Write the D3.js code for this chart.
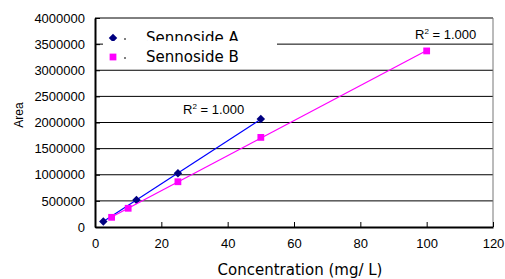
<!DOCTYPE html>
<html>
<head>
<meta charset="utf-8">
<script src="https://cdn.jsdelivr.net/npm/d3@7"></script>
<style>
    body { margin: 0; background: #fff; }
    svg { display: block; }
</style>
</head>
<body>
<div id="graph"></div>
<script>
// Sennoside A (diamonds) and Sennoside B (squares)
var concA = [2.5, 12.5, 25, 50];
var areaA = [105000, 516000, 1030000, 2065000];
var concB = [5, 10, 25, 50, 100];
var areaB = [185000, 358000, 866000, 1715000, 3370000];

var seriesNames = ["Sennoside A", "Sennoside B"];
var r2Labels = ["1.000", "1.000"];
var xTicks = [0, 20, 40, 60, 80, 100, 120];
var yTicks = [0, 500000, 1000000, 1500000, 2000000, 2500000, 3000000, 3500000, 4000000];

var width = 505;
var height = 279;
var margin = {left: 95, right: 12, top: 18, bottom: 52};

var svg = d3.select("#graph").append("svg")
    .attr("width", width)
    .attr("height", height);

var x = d3.scaleLinear()
    .domain([0, 120])
    .range([margin.left, width - margin.right]);
var y = d3.scaleLinear()
    .domain([0, 4000000])
    .range([height - margin.bottom, margin.top]);

function fit(xs, ys) {
    var mx = d3.mean(xs), my = d3.mean(ys);
    var sxy = 0, sxx = 0;
    xs.forEach(function(v, i) {
        sxy += (v - mx) * (ys[i] - my);
        sxx += (v - mx) * (v - mx);
    });
    var slope = sxy / sxx;
    return {slope: slope, intercept: my - slope * mx};
}

var series = [
    {name: seriesNames[0], xs: concA, ys: areaA, line: "#0000ff", fill: "#000080", diamond: true, r2: r2Labels[0]},
    {name: seriesNames[1], xs: concB, ys: areaB, line: "#ff00ff", fill: "#ff00ff", diamond: false, r2: r2Labels[1]}
];

var square = d3.symbol().type(d3.symbolSquare).size(46);
var diamond = d3.symbol().type(d3.symbolSquare).size(36);

function markerTransform(s, px, py) {
    return "translate(" + px + "," + py + ")" + (s.diamond ? " rotate(45)" : "");
}

// gridlines
svg.append("g")
    .selectAll("line")
    .data(yTicks.slice(1, -1))
    .enter()
    .append("line")
    .attr("x1", x(0))
    .attr("x2", x(120))
    .attr("y1", function(d) { return y(d); })
    .attr("y2", function(d) { return y(d); })
    .attr("stroke", "#000")
    .attr("stroke-width", 1);

// frame: top and right
svg.append("line")
    .attr("x1", x(0)).attr("x2", x(120))
    .attr("y1", y(4000000)).attr("y2", y(4000000))
    .attr("stroke", "#000");
svg.append("line")
    .attr("x1", x(120)).attr("x2", x(120))
    .attr("y1", y(4000000)).attr("y2", y(0))
    .attr("stroke", "#777");

// axes
var xAxis = d3.axisBottom(x)
    .tickValues(xTicks)
    .tickSizeInner(-5)
    .tickSizeOuter(0)
    .tickPadding(12);
var yAxis = d3.axisLeft(y)
    .tickValues(yTicks)
    .tickFormat(d3.format("d"))
    .tickSizeInner(-5)
    .tickSizeOuter(0)
    .tickPadding(10);

var gX = svg.append("g")
    .attr("transform", "translate(0," + y(0) + ")")
    .call(xAxis);
var gY = svg.append("g")
    .attr("transform", "translate(" + x(0) + ",0)")
    .call(yAxis);

[gX, gY].forEach(function(g) {
    g.select(".domain").attr("stroke", "#000").attr("stroke-width", 2);
    g.selectAll(".tick line").attr("stroke", "#000");
    g.selectAll(".tick text")
        .attr("fill", "#000")
        .style("font-family", "'Liberation Sans', Arial, sans-serif")
        .style("font-size", "13px");
});

// legend box (covers gridline)
svg.append("rect")
    .attr("x", 103)
    .attr("y", y(4000000) + 1)
    .attr("width", 174)
    .attr("height", 44)
    .attr("fill", "#fff");

// trendlines and markers
series.forEach(function(s) {
    var f = fit(s.xs, s.ys);
    var x0 = d3.min(s.xs), x1 = d3.max(s.xs);
    svg.append("line")
        .attr("x1", x(x0))
        .attr("y1", y(f.intercept + f.slope * x0))
        .attr("x2", x(x1))
        .attr("y2", y(f.intercept + f.slope * x1))
        .attr("stroke", s.line)
        .attr("stroke-width", 1.2);

    svg.append("g")
        .selectAll("path")
        .data(s.xs.map(function(v, i) { return [v, s.ys[i]]; }))
        .enter()
        .append("path")
        .attr("transform", function(d) { return markerTransform(s, x(d[0]), y(d[1])); })
        .attr("d", s.diamond ? diamond() : square())
        .attr("fill", s.fill);
});

// R^2 labels
var r2Pos = [[183, 114], [415, 39]];
series.forEach(function(s, i) {
    var t = svg.append("text")
        .attr("x", r2Pos[i][0])
        .attr("y", r2Pos[i][1])
        .style("font-family", "'Liberation Sans', Arial, sans-serif")
        .style("font-size", "13px")
        .attr("fill", "#000");
    t.append("tspan").text("R");
    t.append("tspan").attr("dy", -5).style("font-size", "8px").text("2");
    t.append("tspan").attr("dy", 5).text(" = " + s.r2);
});

// legend entries
var legend = svg.append("g");
series.forEach(function(s, i) {
    var ly = 38 + i * 19;
    var g = legend.append("g");
    if (i > 0) {
        g.append("rect")
            .attr("x", 104).attr("y", ly - 16)
            .attr("width", 172).attr("height", 22)
            .attr("fill", "#fff");
    }
    g.append("path")
        .attr("transform", markerTransform(s, 113, ly))
        .attr("d", s.diamond ? diamond() : square())
        .attr("fill", s.fill);
    g.append("line")
        .attr("x1", 124).attr("x2", 126)
        .attr("y1", ly + 1).attr("y2", ly + 1)
        .attr("stroke", "#000");
    g.append("text")
        .attr("x", 146)
        .attr("y", ly + 5)
        .style("font-family", "'DejaVu Sans', sans-serif")
        .style("font-size", "15px")
        .attr("fill", "#000")
        .text(s.name);
});

// axis titles
svg.append("text")
    .attr("x", (x(0) + x(120)) / 2 + 6)
    .attr("y", 275)
    .attr("text-anchor", "middle")
    .style("font-family", "'DejaVu Sans', sans-serif")
    .style("font-size", "15px")
    .attr("fill", "#000")
    .text("Concentration (mg/ L)");

svg.append("text")
    .attr("transform", "translate(23,115) rotate(-90)")
    .attr("text-anchor", "middle")
    .style("font-family", "'Liberation Sans', Arial, sans-serif")
    .style("font-size", "12px")
    .attr("fill", "#000")
    .text("Area");
</script>
</body>
</html>
